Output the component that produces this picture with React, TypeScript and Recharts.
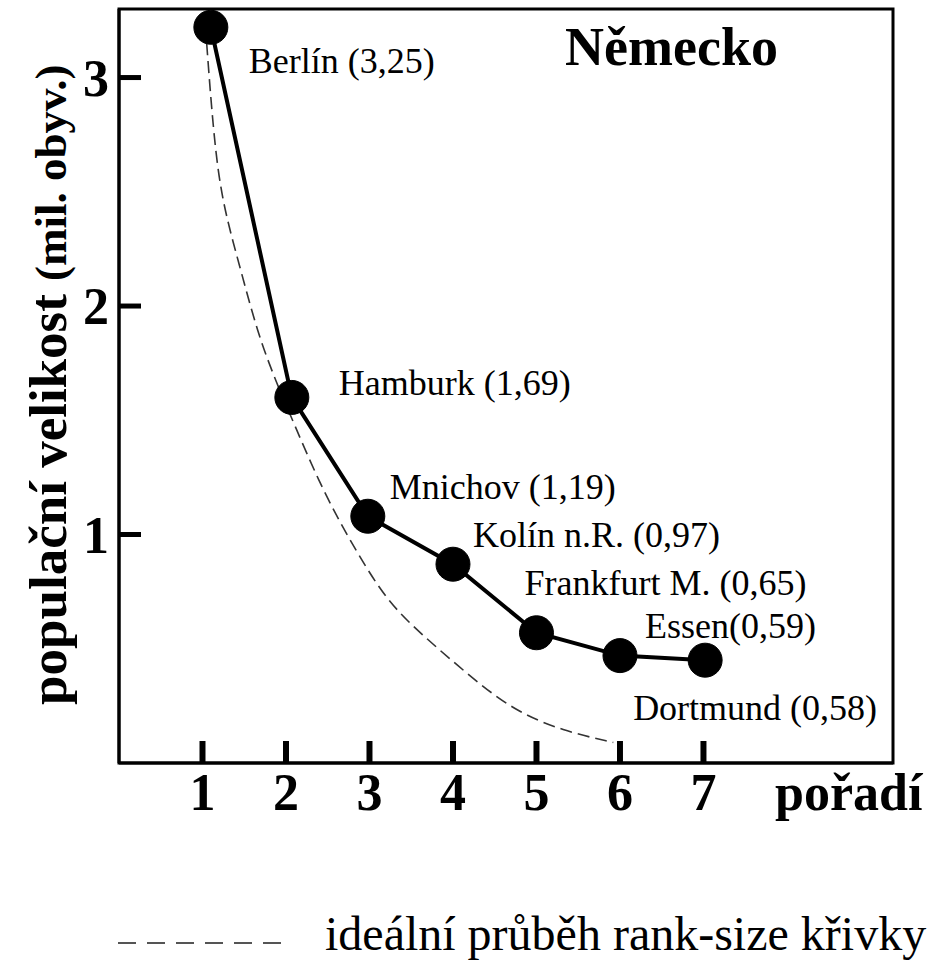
import { LineChart, Line, XAxis, YAxis, LabelList, Legend, ReferenceArea } from 'recharts';

// rank (pořadí) and population in mil. as drawn
const CITY_NAMES = ['Berlín', 'Hamburk', 'Mnichov', 'Kolín n.R.', 'Frankfurt M.', 'Essen', 'Dortmund'];
const CITY_VALUES_TEXT = ['(3,25)', '(1,69)', '(1,19)', '(0,97)', '(0,65)', '(0,59)', '(0,58)'];
const CITY_RANK = [1.1, 2.07, 2.98, 4, 5, 6, 7.02];
const CITY_POP = [3.22, 1.6, 1.08, 0.87, 0.57, 0.47, 0.45];

// ideal rank-size curve (dashed)
const IDEAL_RANK = [1.05, 1.13, 1.23, 1.45, 1.66, 1.89, 2.08, 2.44, 2.85, 3.21, 3.6, 4.17, 4.72, 5.32, 5.92];
const IDEAL_POP = [3.15, 2.76, 2.46, 2.17, 1.88, 1.66, 1.5, 1.19, 0.92, 0.71, 0.57, 0.39, 0.23, 0.14, 0.09];

const X_TICKS = [1, 2, 3, 4, 5, 6, 7];
const Y_TICKS = [1, 2, 3];
const X_MAX = 9.27;
const Y_MAX = 3.3;

// label placement relative to each point (start x, baseline y)
const LABEL_OFFSETS: [number, number][] = [
  [38, 46],
  [47, -2],
  [22, -17],
  [20, -17],
  [-12, -38],
  [25, -18],
  [-72, 60],
];

const FONT = '"Liberation Serif", "Times New Roman", serif';

const cities = CITY_NAMES.map((name, i) => ({
  x: CITY_RANK[i],
  y: CITY_POP[i],
  name,
  label: `${name}${name === 'Essen' ? '' : ' '}${CITY_VALUES_TEXT[i]}`,
}));

const ideal = IDEAL_RANK.map((x, i) => ({ x, y: IDEAL_POP[i] }));

const XTick = (props: any) => {
  const { x, y, payload } = props;
  return (
    <g>
      <line x1={x} x2={x} y1={y} y2={y - 22} stroke="#000" strokeWidth={6} />
      <text x={x} y={y + 47} textAnchor="middle" fontFamily={FONT} fontSize={52} fontWeight="bold" fill="#000">
        {payload.value}
      </text>
    </g>
  );
};

const YTick = (props: any) => {
  const { x, y, payload } = props;
  return (
    <g>
      <line x1={x} x2={x + 22} y1={y} y2={y} stroke="#000" strokeWidth={5} />
      <text x={x - 10} y={y + 18} textAnchor="end" fontFamily={FONT} fontSize={52} fontWeight="bold" fill="#000">
        {payload.value}
      </text>
    </g>
  );
};

const CityLabel = (props: any) => {
  const { x, y, index } = props;
  const [dx, dy] = LABEL_OFFSETS[index];
  return (
    <text x={x + dx} y={y + dy} fontFamily={FONT} fontSize={36} fill="#000">
      {cities[index].label}
    </text>
  );
};

const YTitle = (props: any) => {
  const { viewBox } = props;
  const x = viewBox.x + 47;
  const y = viewBox.y + viewBox.height - 58;
  return (
    <text x={x} y={y} transform={`rotate(-90 ${x} ${y})`} fontFamily={FONT} fontWeight="bold" fill="#000">
      <tspan fontSize={53}>populační velikost </tspan>
      <tspan fontSize={45}>(mil. obyv.)</tspan>
    </text>
  );
};

const XTitle = (props: any) => {
  const { viewBox } = props;
  return (
    <text x={viewBox.x + viewBox.width - 118} y={viewBox.y + 47} fontFamily={FONT} fontSize={52} fontWeight="bold" fill="#000">
      pořadí
    </text>
  );
};

const ChartTitle = (props: any) => {
  const { viewBox } = props;
  return (
    <text x={viewBox.x + 446} y={viewBox.y + 56} fontFamily={FONT} fontSize={54} fontWeight="bold" fill="#000">
      Německo
    </text>
  );
};

const LegendContent = () => (
  <svg width={938} height={56} style={{ display: 'block' }}>
    <line x1={118} x2={290} y1={38} y2={38} stroke="#555" strokeWidth={2} strokeDasharray="18 11" />
    <text x={325} y={45} fontFamily={FONT} fontSize={48} fill="#000">
      ideální průběh rank-size křivky
    </text>
  </svg>
);

export default function App() {
  return (
    <div style={{ position: 'absolute', left: 0, top: 0, width: 938, height: 961, background: '#fff' }}>
      <LineChart width={938} height={961} margin={{ top: 9, right: 45, left: 19, bottom: 138 }}>
        <XAxis
          dataKey="x"
          type="number"
          domain={[0, X_MAX]}
          ticks={X_TICKS}
          interval={0}
          height={60}
          tickSize={0}
          tickMargin={0}
          tickLine={false}
          tick={<XTick />}
          axisLine={{ stroke: '#000', strokeWidth: 3 }}
          label={{ content: <XTitle /> }}
        />
        <YAxis
          type="number"
          domain={[0, Y_MAX]}
          ticks={Y_TICKS}
          interval={0}
          width={100}
          tickSize={0}
          tickMargin={0}
          tickLine={false}
          tick={<YTick />}
          axisLine={{ stroke: '#000', strokeWidth: 3 }}
          label={{ content: <YTitle /> }}
        />
        <ReferenceArea
          x1={0}
          x2={X_MAX}
          y1={0}
          y2={Y_MAX}
          fill="none"
          stroke="#000"
          strokeWidth={3}
          ifOverflow="visible"
          label={{ content: <ChartTitle /> }}
        />
        <Line
          data={ideal}
          dataKey="y"
          type="basis"
          stroke="#333"
          strokeWidth={1.6}
          strokeDasharray="12 6"
          dot={false}
          activeDot={false}
          isAnimationActive={false}
          legendType="none"
        />
        <Line
          data={cities}
          dataKey="y"
          type="linear"
          stroke="#000"
          strokeWidth={4}
          dot={{ r: 17, fill: '#000', stroke: '#000', strokeWidth: 1 }}
          activeDot={false}
          isAnimationActive={false}
          legendType="none"
        >
          <LabelList dataKey="name" content={<CityLabel />} />
        </Line>
        <Legend
          layout="vertical"
          align="center"
          verticalAlign="middle"
          content={<LegendContent />}
          wrapperStyle={{ top: 905, left: 0, width: 938, height: 56 }}
        />
      </LineChart>
    </div>
  );
}
